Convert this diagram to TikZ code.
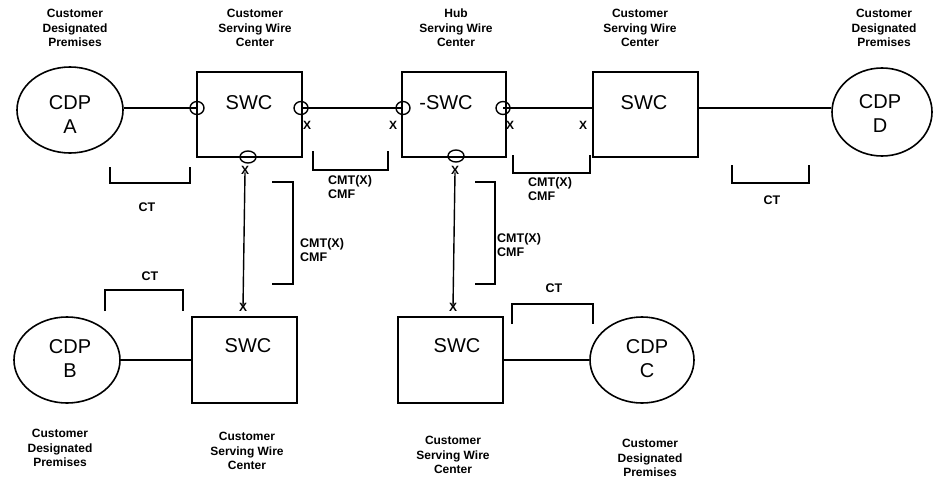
\documentclass[tikz,border=0pt]{standalone}
\usepackage{fontspec}
\setmainfont{Liberation Sans}
\usetikzlibrary{shapes.geometric}
\begin{document}
\begin{tikzpicture}[x=1pt,y=-1pt,
  lw/.style={line width=1.4pt},
  swcbox/.style={draw, line width=1.6pt, minimum width=105pt, minimum height=85pt, inner sep=0pt},
  cdp/.style={draw, ellipse, line width=1.6pt, inner sep=0pt},
  big/.style={font=\fontsize{20}{24}\selectfont, align=center, inner sep=0pt},
  lab/.style={font=\bfseries\fontsize{12}{14.5}\selectfont, align=center, inner sep=0pt},
  mlab/.style={font=\bfseries\fontsize{12.5}{13.8}\selectfont, align=left, anchor=north west, inner sep=0pt},
  ctlab/.style={font=\bfseries\fontsize{12.5}{14}\selectfont, inner sep=0pt},
  port/.style={draw, ellipse, line width=1.4pt, minimum width=14pt, minimum height=13pt, inner sep=0pt},
  xmark/.style={font=\bfseries\fontsize{12}{12}\selectfont, inner sep=0pt},
]
\useasboundingbox (0,0) rectangle (934,479);

% top labels
\node[lab] (lA) at (75,28) {Customer\\Designated\\Premises};
\node[lab] (l1) at (255,28) {Customer\\Serving Wire\\Center};
\node[lab] (lH) at (456,28) {Hub\\Serving Wire\\Center};
\node[lab] (l3) at (640,28) {Customer\\Serving Wire\\Center};
\node[lab] (lD) at (884,28) {Customer\\Designated\\Premises};

% top row shapes
\node[cdp, minimum width=106pt, minimum height=86pt] (cdpA) at (70,110) {};
\node[big] (tA) at (70,115) {CDP\\A};
\node[swcbox] (swc1) at (249.5,114.5) {};
\node[big] (t1) at (249,103) {SWC};
\node[swcbox, minimum width=104pt] (hub) at (454,114.5) {};
\node[big] (tH) at (446,103) {-SWC};
\node[swcbox] (swc3) at (645.5,114.5) {};
\node[big] (t3) at (644,103) {SWC};
\node[cdp, minimum width=100pt, minimum height=88pt] (cdpD) at (882,112) {};
\node[big] (tD) at (880,114) {CDP\\D};

% ports
\node[port] (pA) at (197,108) {};
\node[port] (p1r) at (301,108) {};
\node[port, minimum width=16pt, minimum height=12pt] (p1b) at (248,157) {};
\node[port] (phl) at (403,108) {};
\node[port] (phr) at (503,108) {};
\node[port, minimum width=16pt, minimum height=12pt] (phb) at (456,156) {};

% X marks
\node[xmark] (x1r) at (307,125) {X};
\node[xmark] (xhl) at (393,125) {X};
\node[xmark] (xhr) at (510,125) {X};
\node[xmark] (x3l) at (583,125) {X};
\node[xmark] (x1b) at (245,170) {X};
\node[xmark] (xhb) at (455,170) {X};
\node[xmark] (xB) at (243,307) {X};
\node[xmark] (xC) at (453,307) {X};

% bottom row shapes
\node[cdp, minimum width=106pt, minimum height=86pt] (cdpB) at (67,360) {};
\node[big] (tB) at (70,359) {CDP\\B};
\node[swcbox, minimum height=86pt] (swcB) at (244.5,360) {};
\node[big] (tsB) at (248,346) {SWC};
\node[swcbox, minimum height=86pt] (swcC) at (450.5,360) {};
\node[big] (tsC) at (457,346) {SWC};
\node[cdp, minimum width=104pt, minimum height=86pt] (cdpC) at (642,360) {};
\node[big] (tC) at (647,359) {CDP\\C};

% bottom labels
\node[lab] (lB) at (60,448) {Customer\\Designated\\Premises};
\node[lab] (lsB) at (247,451) {Customer\\Serving Wire\\Center};
\node[lab] (lsC) at (453,455) {Customer\\Serving Wire\\Center};
\node[lab] (lC) at (650,458) {Customer\\Designated\\Premises};

% connectors
\draw[lw] (cdpA.east |- pA) -- (pA.center) -- (swc1.west |- pA);
\draw[lw] (p1r.center) -- (phl.center);
\draw[lw] (phr.center) -- (swc3.west |- phr);
\draw[lw] (swc3.east |- phr) -- (cdpD.west |- phr);
\draw[lw] ([yshift=2pt]x1b.south) -- ([yshift=-4pt]xB.north);
\draw[lw] ([yshift=2pt]xhb.south) -- ([yshift=-4pt]xC.north);
\draw[lw] (cdpB.east) -- (swcB.west);
\draw[lw] (swcC.east) -- (cdpC.west);

% brackets
\coordinate (ba1) at (110,167); \coordinate (ba2) at (190,183);
\draw[lw] (ba1) -- (ba1 |- ba2) -- (ba2) -- (ba2 |- ba1);
\coordinate (bm1) at (313,151); \coordinate (bm2) at (388,170);
\draw[lw] (bm1) -- (bm1 |- bm2) -- (bm2) -- (bm2 |- bm1);
\coordinate (bn1) at (513,155); \coordinate (bn2) at (590,173);
\draw[lw] (bn1) -- (bn1 |- bn2) -- (bn2) -- (bn2 |- bn1);
\coordinate (bd1) at (732,165); \coordinate (bd2) at (809,183);
\draw[lw] (bd1) -- (bd1 |- bd2) -- (bd2) -- (bd2 |- bd1);
\coordinate (bv1) at (272,182); \coordinate (bv2) at (293,284);
\draw[lw] (bv1) -- (bv1 -| bv2) -- (bv2) -- (bv2 -| bv1);
\coordinate (bw1) at (475,182); \coordinate (bw2) at (495,284);
\draw[lw] (bw1) -- (bw1 -| bw2) -- (bw2) -- (bw2 -| bw1);
\coordinate (bb1) at (105,311); \coordinate (bb2) at (183,290);
\draw[lw] (bb1) -- (bb1 |- bb2) -- (bb2) -- (bb2 |- bb1);
\coordinate (bc1) at (512,324); \coordinate (bc2) at (593,304);
\draw[lw] (bc1) -- (bc1 |- bc2) -- (bc2) -- (bc2 |- bc1);

% bracket labels
\node[ctlab] (ctA) at (147,207) {CT};
\node[ctlab] (ctD) at (772,200) {CT};
\node[ctlab] (ctB) at (150,276) {CT};
\node[ctlab] (ctC) at (554,288) {CT};
\node[mlab] (m1) at (328,175) {CMT(X)\\CMF};
\node[mlab] (m2) at (528,177) {CMT(X)\\CMF};
\node[mlab] (m3) at (300,238) {CMT(X)\\CMF};
\node[mlab] (m4) at (497,233) {CMT(X)\\CMF};
\end{tikzpicture}
\end{document}
